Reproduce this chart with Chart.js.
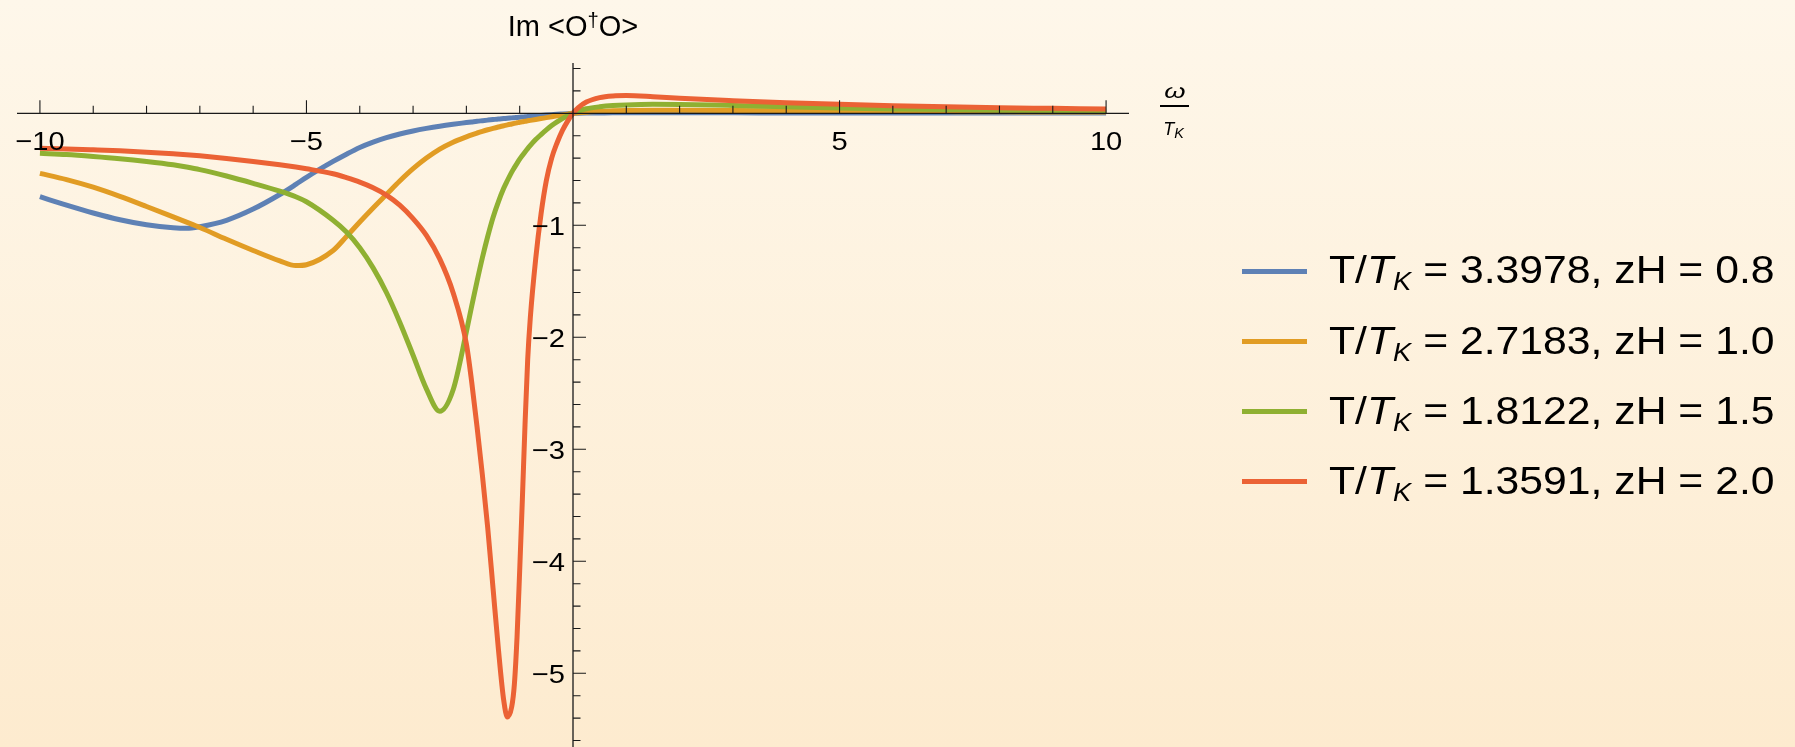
<!DOCTYPE html>
<html>
<head>
<meta charset="utf-8">
<title>Im &lt;O†O&gt; versus ω/T_K</title>
<script src="https://cdn.jsdelivr.net/npm/chart.js@4.4.1/dist/chart.umd.min.js"></script>
<style>
  html, body { margin: 0; padding: 0; overflow: hidden; }
  #wrap {
    position: relative; width: 1795px; height: 747px;
    background: linear-gradient(180deg, #fef7ea 0%, #fdebcf 100%);
    font-family: "Liberation Sans", Arial, sans-serif; color: #000;
  }
  #plot { position: absolute; left: 0; top: 0; }
  .lbl { position: absolute; white-space: nowrap; line-height: 1; }
  #ytitle { font-size: 29px; top: 12px; transform: translateX(-50%); }
  #ytitle sup { font-size: 0.7em; line-height: 0; vertical-align: 0.42em; }
  #xnum { font-size: 21px; top: 80px; transform: translateX(-50%) scaleX(1.3); }
  #xbar { position: absolute; height: 1.6px; background: #000; top: 105px; }
  #xden { font-size: 18px; top: 120px; transform: translateX(-50%); }
  #xden sub { font-size: 0.8em; line-height: 0; vertical-align: -3px; }
  .row { position: absolute; font-size: 39px; transform: scaleX(1.095); transform-origin: 0 50%; }
  .row sub { font-size: 0.64em; line-height: 0; vertical-align: -6.5px; font-style: italic; }
  .swatch { position: absolute; height: 5px; width: 65px; }
</style>
</head>
<body>
<div id="wrap">
  <canvas id="plot" width="1795" height="747"></canvas>
  <div id="ytitle" class="lbl">Im &lt;O<sup>†</sup>O&gt;</div>
  <div id="xnum" class="lbl"><i>ω</i></div>
  <div id="xbar"></div>
  <div id="xden" class="lbl"><i>T</i><sub><i>K</i></sub></div>
  <div id="legend"></div>
</div>
<script>
// Frequency grid ω/T_K (denser around the sharp resonances)
const omega = [
  -10, -9.5, -9, -8.5, -8, -7.5, -7.25, -7, -6.5, -6, -5.5, -5.2, -5, -4.5, -4.25, -4,
  -3.75, -3.5, -3.25, -3, -2.75, -2.5, -2.25, -2, -1.9, -1.8, -1.7, -1.6, -1.5, -1.4,
  -1.3, -1.23, -1.15, -1.1, -1.05, -1, -0.95, -0.9, -0.85, -0.8, -0.7, -0.6, -0.5, -0.4,
  -0.3, -0.2, -0.1, 0, 0.1, 0.25, 0.5, 0.75, 1, 1.5, 2, 3, 4, 5, 6, 7, 8, 9, 10
];

// Im <O†O> for each horizon position zH
const imZH08 = [
  -0.745, -0.82, -0.89, -0.95, -0.995, -1.022, -1.027, -1.012, -0.955, -0.855, -0.725, -0.635, -0.572, -0.43, -0.365, -0.305,
  -0.257, -0.217, -0.185, -0.158, -0.135, -0.115, -0.098, -0.083, -0.077, -0.071, -0.066, -0.061, -0.056, -0.051,
  -0.047, -0.044, -0.041, -0.039, -0.037, -0.035, -0.033, -0.031, -0.029, -0.027, -0.023, -0.0195, -0.016, -0.0125,
  -0.009, -0.006, -0.003, 0, 0.001, 0.002, 0.003, 0.004, 0.004, 0.004, 0.004, 0.004, 0.003, 0.003, 0.003, 0.002, 0.002, 0.002, 0.002
];
const imZH10 = [
  -0.536, -0.592, -0.66, -0.742, -0.832, -0.925, -0.972, -1.02, -1.125, -1.225, -1.318, -1.36, -1.352, -1.225, -1.10, -0.97,
  -0.845, -0.725, -0.605, -0.495, -0.40, -0.32, -0.258, -0.21, -0.192, -0.176, -0.161, -0.147, -0.134, -0.122,
  -0.111, -0.103, -0.095, -0.09, -0.085, -0.08, -0.076, -0.071, -0.067, -0.063, -0.055, -0.047, -0.039, -0.031,
  -0.023, -0.015, -0.0075, 0, 0.004, 0.01, 0.018, 0.022, 0.025, 0.027, 0.027, 0.025, 0.022, 0.019, 0.017, 0.015, 0.013, 0.012, 0.011
];
const imZH15 = [
  -0.357, -0.368, -0.385, -0.405, -0.43, -0.46, -0.48, -0.503, -0.56, -0.625, -0.695, -0.745, -0.79, -0.955, -1.06, -1.2,
  -1.38, -1.6, -1.865, -2.16, -2.46, -2.66, -2.47, -1.95, -1.72, -1.50, -1.29, -1.10, -0.93, -0.79,
  -0.67, -0.60, -0.525, -0.485, -0.447, -0.41, -0.377, -0.345, -0.315, -0.287, -0.235, -0.19, -0.148, -0.11,
  -0.077, -0.048, -0.022, 0, 0.02, 0.04, 0.058, 0.069, 0.075, 0.08, 0.079, 0.07, 0.058, 0.047, 0.039, 0.033, 0.028, 0.024, 0.021
];
const imZH20 = [
  -0.3125, -0.318, -0.326, -0.335, -0.347, -0.362, -0.37, -0.38, -0.403, -0.43, -0.46, -0.48, -0.495, -0.54, -0.575, -0.615,
  -0.665, -0.73, -0.82, -0.94, -1.09, -1.30, -1.60, -2.06, -2.40, -2.80, -3.23, -3.70, -4.24, -4.78,
  -5.24, -5.39, -5.30, -5.10, -4.68, -4.08, -3.45, -2.78, -2.20, -1.82, -1.30, -0.90, -0.60, -0.40,
  -0.265, -0.155, -0.07, 0, 0.05, 0.10, 0.14, 0.155, 0.158, 0.148, 0.134, 0.113, 0.095, 0.08, 0.068, 0.058, 0.05, 0.044, 0.038
];

// Legend parameters
const tOverTK = ['3.3978', '2.7183', '1.8122', '1.3591'];
const zHValues = ['0.8', '1.0', '1.5', '2.0'];
const seriesColors = ['#5e81b5', '#e19c24', '#8fb032', '#eb6235'];
const seriesValues = [imZH08, imZH10, imZH15, imZH20];

// Axis ticks
const xLabelTicks = [-10, -5, 5, 10];
const yLabelTicks = [-5, -4, -3, -2, -1];
const xMinorStep = 1;
const yMinorStep = 0.2;

const axisColor = '#1a1a1a';
const tickFont = '26px "Liberation Sans", Arial, sans-serif';
const tickStretch = 1.12;
const minus = v => (v < 0 ? '\u2212' + Math.abs(v) : String(v));

function stretchedText(ctx, text, x, y) {
  ctx.save();
  ctx.translate(x, y);
  ctx.scale(tickStretch, 1);
  ctx.fillText(text, 0, 0);
  ctx.restore();
}

const crossAxes = {
  id: 'crossAxes',
  afterDatasetsDraw(chart) {
    const { ctx, chartArea: ca, scales: { x, y } } = chart;
    const x0 = x.getPixelForValue(0);
    const y0 = y.getPixelForValue(0);
    ctx.save();
    ctx.strokeStyle = axisColor;
    ctx.lineWidth = 1.3;
    ctx.beginPath();
    ctx.moveTo(ca.left, y0); ctx.lineTo(ca.right, y0);
    ctx.moveTo(x0, ca.top); ctx.lineTo(x0, ca.bottom);
    ctx.stroke();

    // minor and major tick marks: upward on the x axis, rightward on the y axis
    ctx.lineWidth = 1.1;
    ctx.beginPath();
    for (let v = -10; v <= 10.001; v += xMinorStep) {
      const r = Math.round(v);
      if (r === 0) continue;
      const px = x.getPixelForValue(r);
      const len = xLabelTicks.includes(r) ? 13 : 7.5;
      ctx.moveTo(px, y0); ctx.lineTo(px, y0 - len);
    }
    for (let k = -28; k <= 2; k++) {
      if (k === 0) continue;
      const py = y.getPixelForValue(k * yMinorStep);
      if (py > ca.bottom) continue;
      const len = (k % 5 === 0) ? 13 : 7.5;
      ctx.moveTo(x0, py); ctx.lineTo(x0 + len, py);
    }
    ctx.stroke();

    ctx.fillStyle = '#000';
    ctx.font = tickFont;
    ctx.textBaseline = 'alphabetic';
    ctx.textAlign = 'center';
    xLabelTicks.forEach(v => stretchedText(ctx, minus(v), x.getPixelForValue(v), y0 + 37));
    ctx.textAlign = 'right';
    yLabelTicks.forEach(v => stretchedText(ctx, minus(v), x0 - 8, y.getPixelForValue(v) + 10));
    ctx.restore();
  }
};

const datasets = seriesValues.map((vals, i) => ({
  label: 'T/T_K = ' + tOverTK[i] + ', zH = ' + zHValues[i],
  data: omega.map((w, j) => ({ x: w, y: vals[j] })),
  borderColor: seriesColors[i],
  borderWidth: 5,
  pointRadius: 0,
  fill: false,
  cubicInterpolationMode: 'monotone',
  order: seriesValues.length - i
}));

const chart = new Chart(document.getElementById('plot'), {
  type: 'line',
  data: { datasets },
  options: {
    responsive: false,
    animation: false,
    devicePixelRatio: 1,
    layout: { padding: { left: 17, right: 666, top: 63, bottom: 0 } },
    plugins: { legend: { display: false }, tooltip: { enabled: false } },
    scales: {
      x: { type: 'linear', min: -10.43, max: 10.43, display: false },
      y: { type: 'linear', min: -5.658, max: 0.449, display: false }
    }
  },
  plugins: [crossAxes]
});

// Axis titles placed from the scales
const xs = chart.scales.x;
document.getElementById('ytitle').style.left = xs.getPixelForValue(0) + 'px';
const fracLeft = chart.chartArea.right + 31;
const fracCenter = fracLeft + 14.5;
document.getElementById('xnum').style.left = fracCenter + 'px';
document.getElementById('xden').style.left = (fracCenter - 1) + 'px';
const bar = document.getElementById('xbar');
bar.style.left = fracLeft + 'px';
bar.style.width = '29px';

// Legend rows
const legend = document.getElementById('legend');
tOverTK.forEach((t, i) => {
  const cy = 271 + i * 70.2;
  const sw = document.createElement('div');
  sw.className = 'swatch';
  sw.style.left = '1242px';
  sw.style.top = (cy - 2.5) + 'px';
  sw.style.background = seriesColors[i];
  legend.appendChild(sw);
  const row = document.createElement('div');
  row.className = 'lbl row';
  row.style.left = '1329px';
  row.style.top = (cy + 12.3 - 33) + 'px';
  row.innerHTML = 'T/<i>T</i><sub>K</sub> = ' + t + ', zH = ' + zHValues[i];
  legend.appendChild(row);
});
</script>
</body>
</html>
